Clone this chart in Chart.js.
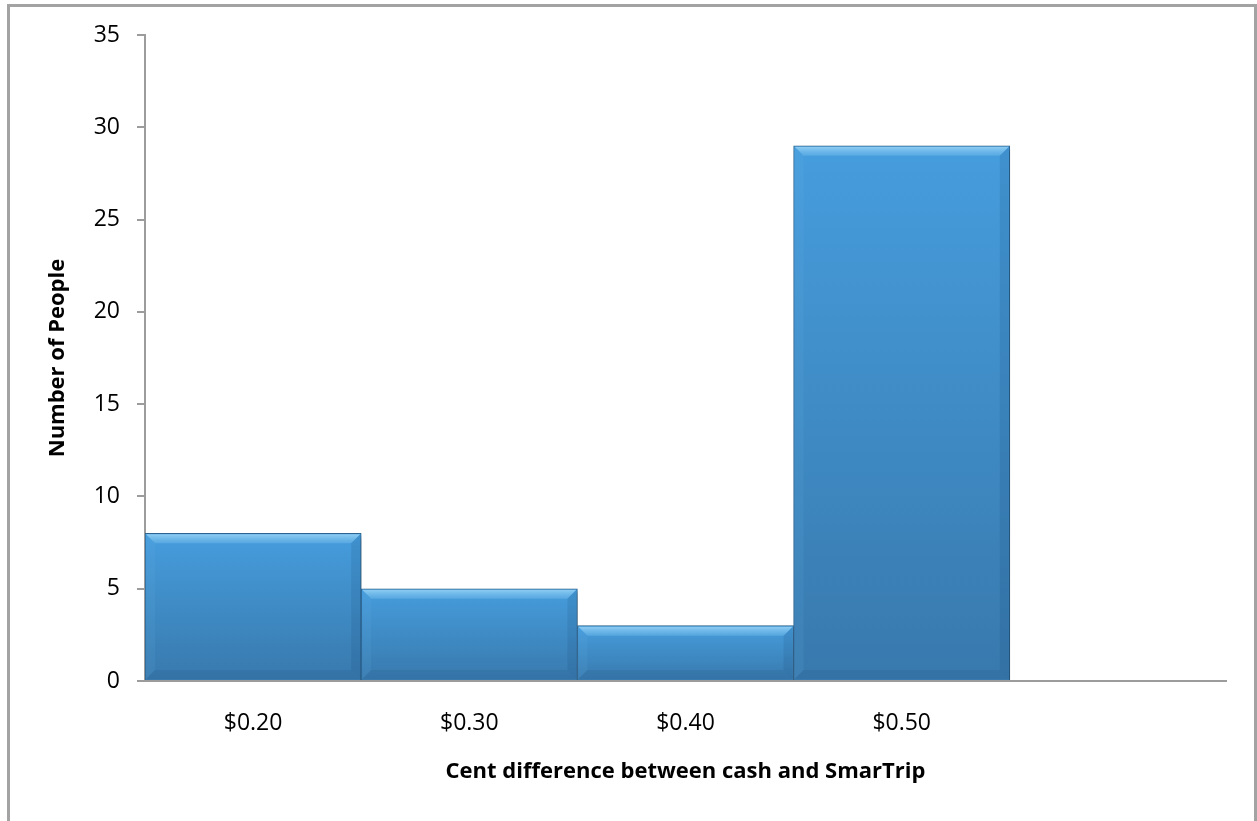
<!DOCTYPE html>
<html>
<head>
<meta charset="utf-8">
<script src="https://cdn.jsdelivr.net/npm/chart.js@4/dist/chart.umd.min.js"></script>
<style>
    html, body { margin: 0; padding: 0; background: #fff; overflow: hidden; }
    #wrap { position: relative; width: 1257px; height: 821px; }
    #frame {
        position: absolute; left: 7px; top: 4px; width: 1250px; height: 900px;
        box-sizing: border-box; border: 3px solid #a3a3a3;
    }
    canvas { position: absolute; left: 0; top: 0; }
</style>
</head>
<body>
<div id="wrap">
    <div id="frame"></div>
    <canvas id="fareChart" width="1257" height="821"></canvas>
</div>
<script>
// Survey: how many people named each cash vs SmarTrip fare gap
const fareGaps = ['$0.20', '$0.30', '$0.40', '$0.50', ''];
const peopleCounts = [8, 5, 3, 29, null];
const yTicks = { min: 0, max: 35, step: 5 };

const FONT = "'Open Sans', 'Liberation Sans', sans-serif";

// per-bar vertical gradient, lighter at the top
function barFill(context) {
    const chart = context.chart;
    const v = context.raw;
    if (!chart.chartArea || v == null) return '#3f8cc8';
    const y = chart.scales.y;
    const top = y.getPixelForValue(v);
    const bottom = y.getPixelForValue(0);
    const g = chart.ctx.createLinearGradient(0, top, 0, bottom);
    g.addColorStop(0, '#469ddd');
    g.addColorStop(1, '#3879ad');
    return g;
}

// soft drop shadow behind the bars
const barShadow = {
    id: 'barShadow',
    beforeDatasetsDraw(chart) {
        const c = chart.ctx;
        c.save();
        c.shadowColor = 'rgba(0,0,0,0.3)';
        c.shadowBlur = 5;
        c.shadowOffsetX = 3;
        c.shadowOffsetY = 3;
    },
    afterDatasetsDraw(chart) {
        chart.ctx.restore();
    }
};

// bevelled edges on each bar
const barBevel = {
    id: 'barBevel',
    afterDatasetsDraw(chart) {
        const c = chart.ctx;
        const meta = chart.getDatasetMeta(0);
        const b = 9;
        meta.data.forEach((bar, i) => {
            if (peopleCounts[i] == null) return;
            const p = bar.getProps(['x', 'y', 'base', 'width'], true);
            const l = p.x - p.width / 2 + 1, r = p.x + p.width / 2 - 1;
            const t = p.y + 1, btm = p.base - 1;
            c.save();
            // top
            let g = c.createLinearGradient(0, t, 0, t + b);
            g.addColorStop(0, 'rgba(150,210,245,0.9)');
            g.addColorStop(1, 'rgba(110,185,235,0.45)');
            c.fillStyle = g;
            c.beginPath();
            c.moveTo(l, t); c.lineTo(r, t); c.lineTo(r - b, t + b); c.lineTo(l + b, t + b);
            c.closePath(); c.fill();
            // left
            c.fillStyle = 'rgba(110,180,230,0.12)';
            c.beginPath();
            c.moveTo(l, t); c.lineTo(l + b, t + b); c.lineTo(l + b, btm - b); c.lineTo(l, btm);
            c.closePath(); c.fill();
            // right
            c.fillStyle = 'rgba(20,60,100,0.12)';
            c.beginPath();
            c.moveTo(r, t); c.lineTo(r - b, t + b); c.lineTo(r - b, btm - b); c.lineTo(r, btm);
            c.closePath(); c.fill();
            // bottom
            c.fillStyle = 'rgba(20,60,100,0.10)';
            c.beginPath();
            c.moveTo(l, btm); c.lineTo(l + b, btm - b); c.lineTo(r - b, btm - b); c.lineTo(r, btm);
            c.closePath(); c.fill();
            c.restore();
        });
    }
};

const ctx = document.getElementById('fareChart').getContext('2d');
new Chart(ctx, {
    type: 'bar',
    data: {
        labels: fareGaps,
        datasets: [{
            data: peopleCounts,
            backgroundColor: barFill,
            borderColor: '#2d6592',
            borderWidth: 1,
            barPercentage: 1,
            categoryPercentage: 1
        }]
    },
    options: {
        responsive: false,
        animation: false,
        devicePixelRatio: 1,
        layout: { padding: { left: 0, top: 35, right: 31, bottom: 0 } },
        plugins: {
            legend: { display: false },
            tooltip: { enabled: false }
        },
        scales: {
            x: {
                afterFit(scale) { scale.height = 140; },
                grid: { display: true, drawOnChartArea: false, drawTicks: false },
                border: { display: true, color: '#9c9c9c', width: 2 },
                ticks: { color: '#000', padding: 29, font: { family: FONT, size: 23 } },
                title: {
                    display: true,
                    text: 'Cent difference between cash and SmarTrip',
                    color: '#000',
                    font: { family: FONT, size: 22, weight: 'bold' },
                    padding: { top: 0, bottom: 36 }
                }
            },
            y: {
                min: yTicks.min,
                max: yTicks.max,
                afterFit(scale) { scale.width = 145; },
                grid: { drawOnChartArea: false, drawTicks: true, tickLength: 8, color: '#9c9c9c', lineWidth: 2 },
                border: { display: true, color: '#9c9c9c', width: 2 },
                ticks: { stepSize: yTicks.step, color: '#000', padding: 17, font: { family: FONT, size: 23 } },
                title: {
                    display: true,
                    text: 'Number of People',
                    color: '#000',
                    font: { family: FONT, size: 22, weight: 'bold' },
                    padding: { top: 45, bottom: 0 }
                }
            }
        }
    },
    plugins: [barShadow, barBevel]
});
</script>
</body>
</html>
